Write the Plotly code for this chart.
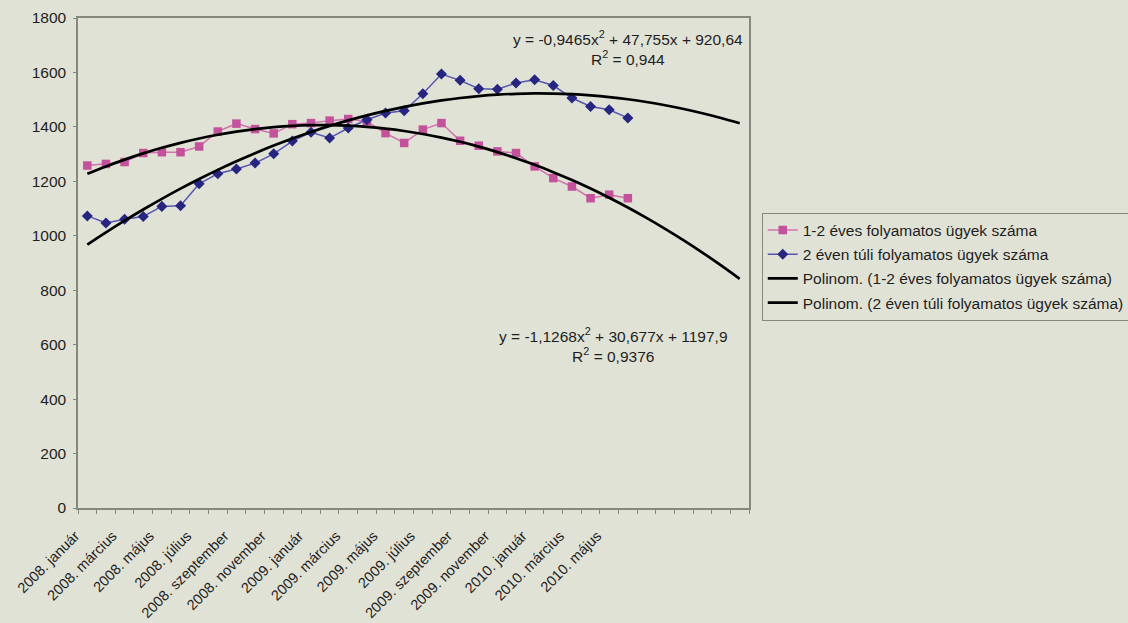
import numpy as np
import plotly.graph_objects as go

months = ["január", "február", "március", "április", "május", "június", "július",
          "augusztus", "szeptember", "október", "november", "december"]
years = [2008, 2009, 2010]
categories = [f"{y}. {m}" for y in years for m in months]  # 36 categories

# 1-2 éves folyamatos ügyek száma (2008. január - 2010. június)
series_12 = [1258, 1264, 1271, 1304, 1307, 1307, 1328, 1383, 1412, 1392,
             1376, 1410, 1414, 1423, 1429, 1420, 1377, 1341, 1390, 1414,
             1349, 1331, 1310, 1304, 1255, 1212, 1181, 1138, 1151, 1138]
# 2 éven túli folyamatos ügyek száma
series_2p = [1073, 1047, 1061, 1071, 1108, 1110, 1191, 1228, 1245, 1267,
             1301, 1348, 1380, 1359, 1396, 1426, 1451, 1459, 1522, 1594,
             1571, 1540, 1538, 1561, 1573, 1552, 1506, 1475, 1463, 1433]

# Polynomial trendline coefficients shown on the chart
coef_12 = [-1.1268, 30.677, 1197.9]
coef_2p = [-0.9465, 47.755, 920.64]
eq_12 = "y = -1,1268x<sup>2</sup> + 30,677x + 1197,9<br>R<sup>2</sup> = 0,9376"
eq_2p = "y = -0,9465x<sup>2</sup> + 47,755x + 920,64<br>R<sup>2</sup> = 0,944"

names = ["1-2 éves folyamatos ügyek száma",
         "2 éven túli folyamatos ügyek száma",
         "Polinom. (1-2 éves folyamatos ügyek száma)",
         "Polinom. (2 éven túli folyamatos ügyek száma)"]

n_all = len(categories)
x_all = np.arange(1, n_all + 1)
x_data = x_all[:len(series_12)]

BG = "#e1e2d6"
AX = "#85887c"
FONT = "Liberation Sans, Arial, sans-serif"
FS = 15.5
TXT = "#1e1e1e"

fig = go.Figure()
fig.add_trace(go.Scatter(
    x=x_data, y=series_12, mode="lines+markers", name=names[0], legendgroup="a",
    line=dict(color="#d170b0", width=1.5),
    marker=dict(symbol="square", size=8.5, color="#c4519b")))
fig.add_trace(go.Scatter(
    x=x_data, y=series_2p, mode="lines+markers", name=names[1], legendgroup="b",
    line=dict(color="#5555b0", width=1.5),
    marker=dict(symbol="diamond", size=8.5, color="#262680")))
fig.add_trace(go.Scatter(
    x=x_all, y=np.polyval(coef_12, x_all), mode="lines", name=names[2], legendgroup="c",
    line=dict(color="black", width=2.7, shape="spline")))
fig.add_trace(go.Scatter(
    x=x_all, y=np.polyval(coef_2p, x_all), mode="lines", name=names[3], legendgroup="d",
    line=dict(color="black", width=2.7, shape="spline")))

label_idx = list(range(0, 29, 2))
fig.update_xaxes(
    range=[0.5, n_all + 0.5],
    tickmode="array",
    tickvals=[int(x_all[i]) for i in label_idx],
    ticktext=[categories[i] for i in label_idx],
    tickangle=-45,
    ticklabelshift=-12, ticklabelstandoff=12,
    ticks="", showgrid=False, zeroline=False,
    showline=True, linecolor=AX, linewidth=1.5, mirror=True,
    tickfont=dict(family=FONT, size=14.5, color=TXT),
    minor=dict(tickmode="array", tickvals=list(np.arange(0.5, n_all + 1, 1.0)),
               ticks="outside", ticklen=4, tickcolor=AX, tickwidth=1, showgrid=False),
)
fig.update_yaxes(
    range=[0, 1800], dtick=200, tick0=0,
    ticks="outside", ticklen=3, tickcolor=AX,
    ticklabelstandoff=4,
    showgrid=False, zeroline=False,
    showline=True, linecolor=AX, linewidth=1.5, mirror=True,
    tickfont=dict(family=FONT, size=FS, color=TXT),
)

fig.add_annotation(x=30.0, y=1688, xref="x", yref="y", text=eq_2p, showarrow=False,
                   align="center", font=dict(family=FONT, size=FS, color=TXT))
fig.add_annotation(x=29.25, y=598, xref="x", yref="y", text=eq_12, showarrow=False,
                   align="center", font=dict(family=FONT, size=FS, color=TXT))

fig.update_layout(
    width=1128, height=623,
    paper_bgcolor=BG, plot_bgcolor=BG,
    margin=dict(l=78, r=379, t=18, b=115, autoexpand=False),
    font=dict(family=FONT, size=FS, color=TXT),
    showlegend=True,
    legend=dict(x=1.019, y=0.603, xanchor="left", yanchor="top",
                bgcolor=BG, bordercolor=AX, borderwidth=1,
                font=dict(family=FONT, size=FS, color=TXT),
                tracegroupgap=1, traceorder="grouped", itemwidth=30),
)

fig.write_html("out.html", config={"displayModeBar": False},
               post_script="document.body.style.margin='0px';")
